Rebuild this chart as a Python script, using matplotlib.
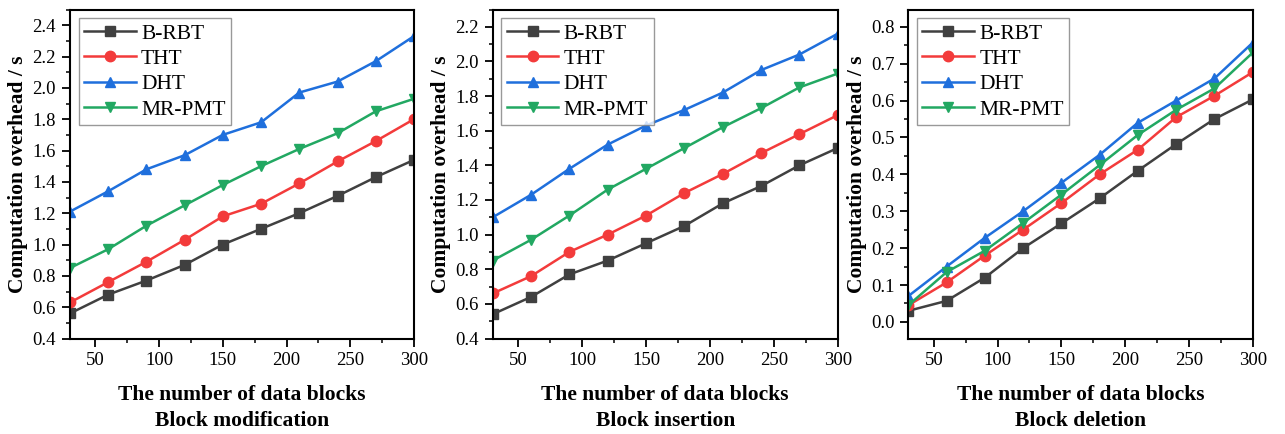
import matplotlib
matplotlib.use("Agg")
import matplotlib.pyplot as plt
from matplotlib.ticker import MultipleLocator, AutoMinorLocator, FormatStrFormatter

plt.rcParams['font.family'] = ['Liberation Serif', 'DejaVu Serif']

x = [30, 60, 90, 120, 150, 180, 210, 240, 270, 300]
series = ["B-RBT", "THT", "DHT", "MR-PMT"]

mod_brbt = [0.56, 0.68, 0.77, 0.87, 1.00, 1.10, 1.20, 1.31, 1.43, 1.54]
mod_tht = [0.63, 0.76, 0.89, 1.03, 1.18, 1.26, 1.39, 1.53, 1.66, 1.80]
mod_dht = [1.21, 1.34, 1.48, 1.57, 1.70, 1.78, 1.97, 2.04, 2.17, 2.33]
mod_mrpmt = [0.85, 0.97, 1.12, 1.25, 1.38, 1.50, 1.61, 1.71, 1.85, 1.93]

ins_brbt = [0.54, 0.64, 0.77, 0.85, 0.95, 1.05, 1.18, 1.28, 1.40, 1.50]
ins_tht = [0.66, 0.76, 0.90, 1.00, 1.11, 1.24, 1.35, 1.47, 1.58, 1.69]
ins_dht = [1.10, 1.23, 1.38, 1.52, 1.63, 1.72, 1.82, 1.95, 2.04, 2.16]
ins_mrpmt = [0.85, 0.97, 1.11, 1.26, 1.38, 1.50, 1.62, 1.73, 1.85, 1.93]

del_brbt = [0.030, 0.057, 0.120, 0.200, 0.267, 0.335, 0.410, 0.482, 0.550, 0.603]
del_tht = [0.045, 0.107, 0.180, 0.250, 0.322, 0.400, 0.467, 0.555, 0.613, 0.677]
del_dht = [0.070, 0.150, 0.228, 0.300, 0.377, 0.453, 0.540, 0.600, 0.660, 0.757]
del_mrpmt = [0.045, 0.135, 0.193, 0.268, 0.345, 0.425, 0.507, 0.575, 0.633, 0.730]

titles = ["Block modification", "Block insertion", "Block deletion"]
xlabel = "The number of data blocks"
ylabel = "Computation overhead / s"

colors = ["#404040", "#f33b3b", "#1f6fdc", "#22a862"]
markers = ["s", "o", "^", "v"]

panels = [
    ([mod_brbt, mod_tht, mod_dht, mod_mrpmt], (0.4, 2.5), 0.2),
    ([ins_brbt, ins_tht, ins_dht, ins_mrpmt], (0.4, 2.3), 0.2),
    ([del_brbt, del_tht, del_dht, del_mrpmt], (-0.045, 0.847), 0.1),
]

lefts = [70 / 1285, 492.7 / 1285, 908.3 / 1285]
widths = [344 / 1285, 345 / 1285, 344.4 / 1285]
bottom = 1 - 338.5 / 434
height = (338.5 - 9.5) / 434

fig = plt.figure(figsize=(12.85, 4.34), dpi=100)

for i, (data, ylim, step) in enumerate(panels):
    ax = fig.add_axes([lefts[i], bottom, widths[i], height])
    for s, vals, c, m in zip(series, data, colors, markers):
        ax.plot(x, vals, color=c, marker=m, markersize=7.5, linewidth=1.8, label=s)
    ax.set_xlim(30, 300)
    ax.set_ylim(*ylim)
    ax.xaxis.set_major_locator(MultipleLocator(50))
    ax.xaxis.set_minor_locator(MultipleLocator(25))
    ax.yaxis.set_major_locator(MultipleLocator(step))
    ax.yaxis.set_minor_locator(AutoMinorLocator(2))
    ax.yaxis.set_major_formatter(FormatStrFormatter("%.1f"))
    ax.tick_params(axis='both', which='major', direction='out', length=6, width=1.3, labelsize=13.5, colors='black', pad=4)
    ax.tick_params(axis='both', which='minor', direction='out', length=3, width=1.1)
    for sp in ax.spines.values():
        sp.set_linewidth(1.5)
    ax.set_ylabel(ylabel, fontsize=15.5, fontweight='bold', labelpad=3)
    ax.set_xlabel(xlabel + "\n" + titles[i], fontsize=15.5, fontweight='bold', labelpad=11, linespacing=1.45)
    leg = ax.legend(loc='upper left', fontsize=15.5, frameon=True, fancybox=False,
                    handlelength=2.4, handletextpad=0.25, labelspacing=0.25,
                    borderpad=0.25, borderaxespad=0.4)
    leg.get_frame().set_edgecolor('#808080')
    leg.get_frame().set_linewidth(1.0)

fig.savefig("out.png", dpi=100, facecolor='white')
